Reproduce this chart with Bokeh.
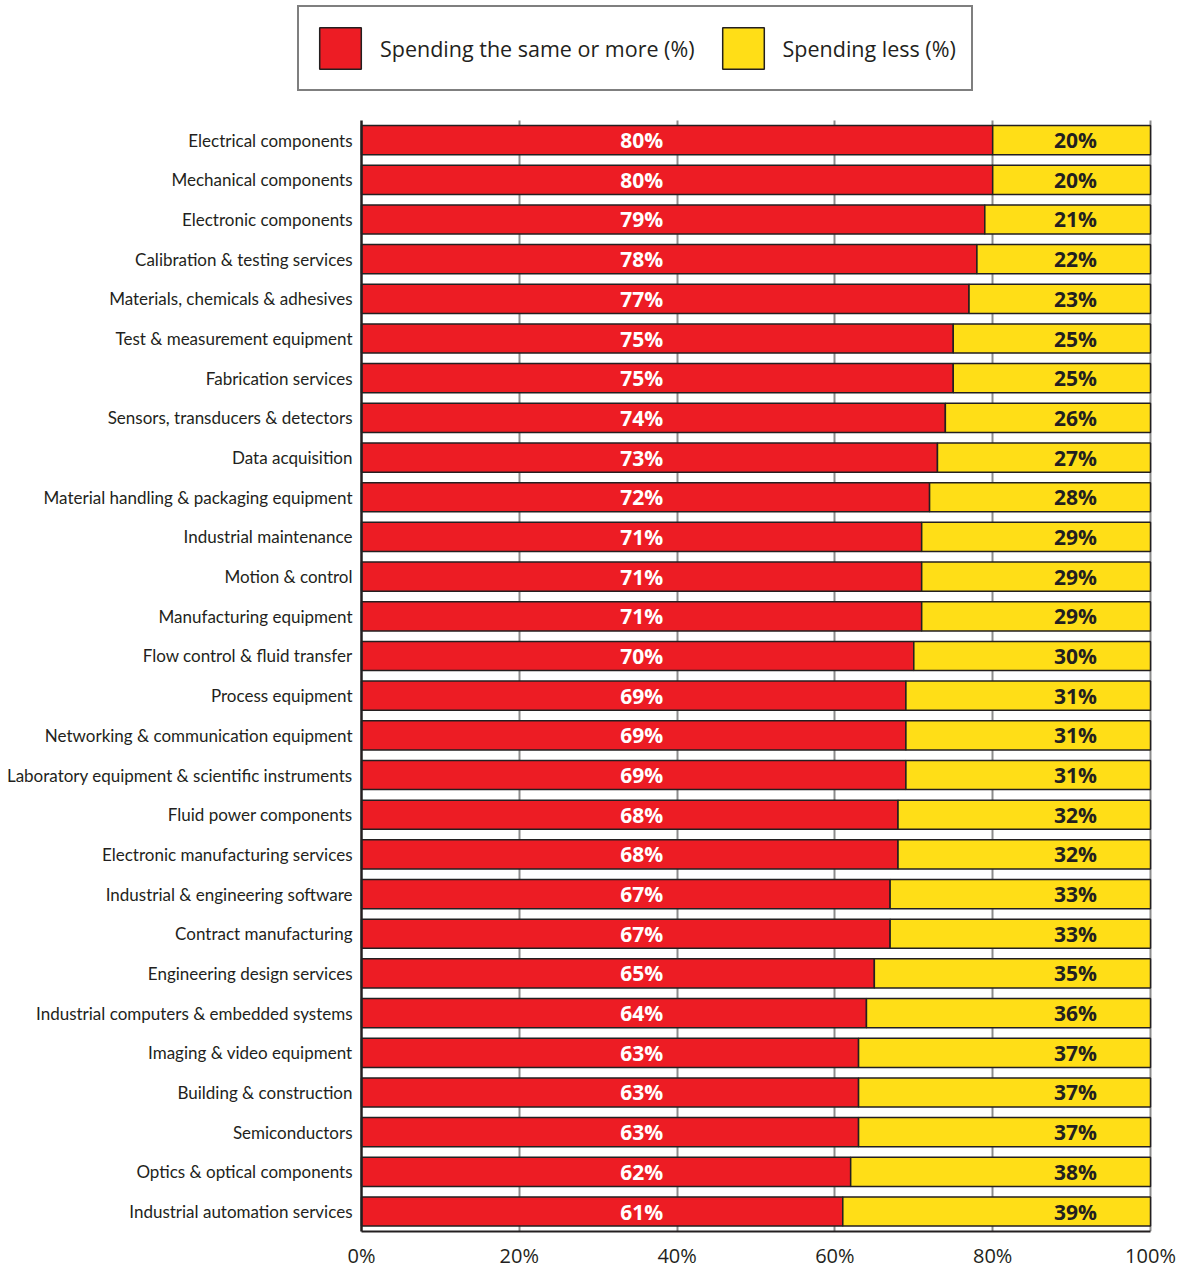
from bokeh.plotting import figure
from bokeh.models import (ColumnDataSource, Range1d, Legend, LegendItem, Grid,
                          PrintfTickFormatter, FixedTicker)
from bokeh.core.properties import value
from bokeh.embed import file_html
from bokeh.resources import INLINE

categories = [
    "Electrical components", "Mechanical components", "Electronic components",
    "Calibration & testing services", "Materials, chemicals & adhesives",
    "Test & measurement equipment", "Fabrication services",
    "Sensors, transducers & detectors", "Data acquisition",
    "Material handling & packaging equipment", "Industrial maintenance",
    "Motion & control", "Manufacturing equipment", "Flow control & fluid transfer",
    "Process equipment", "Networking & communication equipment",
    "Laboratory equipment & scientific instruments", "Fluid power components",
    "Electronic manufacturing services", "Industrial & engineering software",
    "Contract manufacturing", "Engineering design services",
    "Industrial computers & embedded systems", "Imaging & video equipment",
    "Building & construction", "Semiconductors", "Optics & optical components",
    "Industrial automation services",
]
same_or_more = [80, 80, 79, 78, 77, 75, 75, 74, 73, 72, 71, 71, 71, 70, 69, 69, 69,
                68, 68, 67, 67, 65, 64, 63, 63, 63, 62, 61]
less = [20, 20, 21, 22, 23, 25, 25, 26, 27, 28, 29, 29, 29, 30, 31, 31, 31,
        32, 32, 33, 33, 35, 36, 37, 37, 37, 38, 39]
x_ticks = [0, 20, 40, 60, 80, 100]
series_names = ["Spending the same or more (%)", "Spending less (%)"]

RED = "#ED1C24"
YELLOW = "#FFDE17"
DARK = "#231F20"
LABEL_FONT = "Lato"
BOLD_FONT = "Open Sans"

n = len(categories)
src = ColumnDataSource(dict(
    row=list(range(n)),
    cat=categories,
    zero=[0] * n,
    more=same_or_more,
    total=[m + l for m, l in zip(same_or_more, less)],
    more_lbl=[f"{v}%" for v in same_or_more],
    less_lbl=[f"{v}%" for v in less],
    more_x=[35.5] * n,
    less_x=[90.5] * n,
))

# layout constants (pixels)
W, H = 1178, 1271
FRAME_H = 1230          # expected frame height (figure minus x-axis panel)
ROW = 39.65             # row pitch in px
FIRST = 139.5           # first row centre from top of frame
X0_PX, X100_PX = 361, 1150

px_per_pct = (X100_PX - X0_PX) / 100.0
x_start = -X0_PX / px_per_pct
x_end = 100 + (W - X100_PX) / px_per_pct
y_top = -FIRST / ROW
y_bottom = (FRAME_H - FIRST) / ROW
row_top_edge = -0.5

p = figure(width=W, height=H, output_backend="svg", toolbar_location=None,
           x_range=Range1d(x_start, x_end), y_range=Range1d(y_bottom, y_top),
           y_axis_location=None,
           min_border_left=0, min_border_right=0, min_border_top=0,
           min_border_bottom=0)
p.outline_line_color = None
p.background_fill_color = "white"
p.xgrid.visible = False
p.ygrid.visible = False

# vertical grid lines behind the bars
grid = Grid(dimension=0, ticker=FixedTicker(ticks=[20, 40, 60, 80, 100]),
            cross_bounds=(row_top_edge, y_bottom),
            grid_line_color="#8C8C8C", grid_line_width=2)
p.add_layout(grid)

r1 = p.hbar(y="row", left="zero", right="more", height=0.735, source=src,
            fill_color=RED, line_color=DARK, line_width=1.5)
r2 = p.hbar(y="row", left="more", right="total", height=0.735, source=src,
            fill_color=YELLOW, line_color=DARK, line_width=1.5)

# y-axis line at 0%
yline = Grid(dimension=0, ticker=FixedTicker(ticks=[0]),
             cross_bounds=(row_top_edge, y_bottom),
             grid_line_color=DARK, grid_line_width=2.5, level="overlay")
p.add_layout(yline)

# category labels
p.text(x="zero", y="row", text="cat", source=src, x_offset=-9,
       text_align="right", text_baseline="middle", text_color=DARK,
       text_font=value(LABEL_FONT), text_font_size="17px")

p.text(x="more_x", y="row", text="more_lbl", source=src, text_align="center",
       text_baseline="middle", text_color="white", text_font=value(BOLD_FONT),
       text_font_style="bold", text_font_size="21px")
p.text(x="less_x", y="row", text="less_lbl", source=src, text_align="center",
       text_baseline="middle", text_color=DARK, text_font=value(BOLD_FONT),
       text_font_style="bold", text_font_size="21px")

# x axis
p.xaxis.ticker = FixedTicker(ticks=x_ticks)
p.xaxis.bounds = (0, 100)
p.xaxis.formatter = PrintfTickFormatter(format="%d%%")
p.xaxis.major_tick_line_color = None
p.xaxis.minor_tick_line_color = None
p.xaxis.major_tick_out = 0
p.xaxis.major_tick_in = 0
p.xaxis.minor_tick_out = 0
p.xaxis.axis_line_color = DARK
p.xaxis.axis_line_width = 2
p.xaxis.major_label_text_font = "Open Sans"
p.xaxis.major_label_text_font_size = "20px"
p.xaxis.major_label_text_color = DARK
p.xaxis.major_label_standoff = 10

legend = Legend(items=[LegendItem(label=series_names[0], renderers=[r1]),
                       LegendItem(label=series_names[1], renderers=[r2])],
                orientation="horizontal", location=(297, FRAME_H - 90),
                border_line_color="#000000", border_line_width=2.5,
                glyph_width=52, glyph_height=52, label_standoff=14, spacing=22,
                padding=15, margin=0,
                label_text_font="Open Sans", label_text_font_size="21.5px",
                label_text_color=DARK, background_fill_color="white",
                background_fill_alpha=1)
p.add_layout(legend, "center")

open("out.html", "w").write(file_html(p, INLINE))
